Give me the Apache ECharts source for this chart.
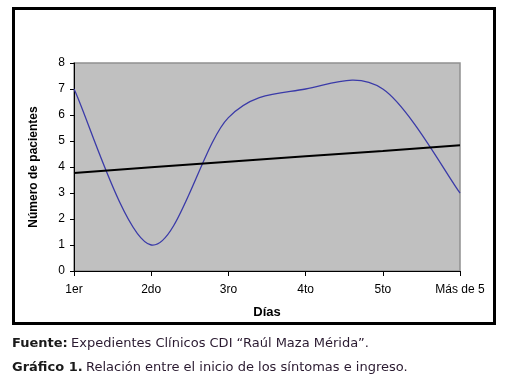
<!DOCTYPE html>
<html>
<head>
<meta charset="utf-8">
<script src="https://cdn.jsdelivr.net/npm/echarts@6/dist/echarts.min.js"></script>
<style>
html,body{margin:0;padding:0;background:#fff;}
#c{width:506px;height:380px;}
</style>
</head>
<body>
<div id="c"></div>
<script>
var categories = ['1er', '2do', '3ro', '4to', '5to', 'Más de 5'];
var pacientes = [7, 1, 5.9, 7, 7, 3];
var tendencia = [3.77, 3.99, 4.2, 4.41, 4.62, 4.84];
var yTicks = [0, 1, 2, 3, 4, 5, 6, 7, 8];

// Excel-style smoothed curve: Catmull-Rom segments drawn as Bezier paths
// between the data points, positioned with the chart's own axes (api.coord).
function renderSmooth(params, api) {
  if (params.dataIndex !== 0) return null;
  var pts = pacientes.map(function (v, i) { return api.coord([i, v]); });
  var n = pts.length;
  var d = 'M' + pts[0][0] + ' ' + pts[0][1];
  for (var i = 0; i < n - 1; i++) {
    var p0 = pts[Math.max(i - 1, 0)], p1 = pts[i], p2 = pts[i + 1], p3 = pts[Math.min(i + 2, n - 1)];
    var c1x = p1[0] + (p2[0] - p0[0]) / 6, c1y = p1[1] + (p2[1] - p0[1]) / 6;
    var c2x = p2[0] - (p3[0] - p1[0]) / 6, c2y = p2[1] - (p3[1] - p1[1]) / 6;
    d += ' C' + c1x + ' ' + c1y + ' ' + c2x + ' ' + c2y + ' ' + p2[0] + ' ' + p2[1];
  }
  return {
    type: 'path',
    shape: {pathData: d},
    style: {fill: 'none', stroke: '#3a3aa8', lineWidth: 1.3}
  };
}

var chart = echarts.init(document.getElementById('c'), null, {renderer: 'canvas'});
chart.setOption({
  animation: false,
  backgroundColor: '#ffffff',
  grid: {
    left: 74, right: 46, top: 63, bottom: 109,
    show: true, backgroundColor: '#c0c0c0', borderColor: '#909090', borderWidth: 1.5
  },
  xAxis: {
    type: 'category',
    data: categories,
    boundaryGap: false,
    name: 'Días',
    nameLocation: 'middle',
    nameGap: 35,
    nameTextStyle: {fontFamily: 'Liberation Sans', fontWeight: 'bold', fontSize: 13, color: '#000'},
    axisLine: {lineStyle: {color: '#000', width: 1}},
    axisTick: {show: true, alignWithLabel: true, length: 5, lineStyle: {color: '#000'}},
    axisLabel: {fontFamily: 'Liberation Sans', fontSize: 12, color: '#000', margin: 13, interval: 0},
    splitLine: {show: false}
  },
  yAxis: {
    type: 'value',
    min: yTicks[0], max: yTicks[yTicks.length - 1], interval: 1,
    name: 'Número de pacientes',
    nameLocation: 'middle',
    nameGap: 34,
    nameTextStyle: {fontFamily: 'Liberation Sans', fontWeight: 'bold', fontSize: 12, color: '#000'},
    axisLine: {show: true, lineStyle: {color: '#000', width: 1}},
    axisTick: {show: true, length: 4, lineStyle: {color: '#000'}},
    axisLabel: {fontFamily: 'Liberation Sans', fontSize: 12, color: '#000', margin: 9},
    splitLine: {show: false}
  },
  series: [
    {
      type: 'custom',
      renderItem: renderSmooth,
      data: pacientes.map(function (v, i) { return [i, v]; }),
      encode: {x: 0, y: 1},
      clip: false
    },
    {
      type: 'line',
      data: tendencia,
      symbol: 'none',
      lineStyle: {color: '#000', width: 2}
    }
  ],
  graphic: [
    {
      type: 'rect',
      shape: {x: 13.5, y: 8.5, width: 481, height: 315},
      style: {fill: 'none', stroke: '#000', lineWidth: 3},
      silent: true
    },
    {
      type: 'text',
      left: 12, top: 337,
      style: {
        rich: {
          b: {fontFamily: 'DejaVu Sans', fontWeight: 'bold', fontSize: 13, fill: '#1a1a1a'},
          n: {fontFamily: 'DejaVu Sans', fontSize: 13, fill: '#2a1a30'}
        },
        text: '{b|Fuente:} {n|Expedientes Clínicos CDI “Raúl Maza Mérida”.}'
      }
    },
    {
      type: 'text',
      left: 12, top: 361,
      style: {
        rich: {
          b: {fontFamily: 'DejaVu Sans', fontWeight: 'bold', fontSize: 13, fill: '#1a1a1a'},
          n: {fontFamily: 'DejaVu Sans', fontSize: 13, fill: '#2a1a30'}
        },
        text: '{b|Gráfico 1.} {n|Relación entre el inicio de los síntomas e ingreso.}'
      }
    }
  ]
});
</script>
</body>
</html>
